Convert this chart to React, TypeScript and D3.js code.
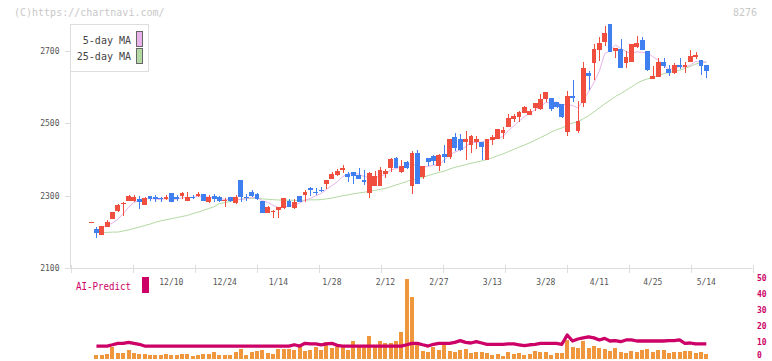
import React from 'react';
import * as d3 from 'd3';

// ---- data (index 0..115, one per trading day) ----
const opens = [2227,2208,2193,2215,2237,2259,2278,2286,2286,2291,2276,2300,2298,2295,2290,2309,2298,2300,2287,2296,2300,2305,2284,2300,2297,2286,2298,2280,2344,2298,2310,2305,2287,2253,2256,2260,2266,2286,2267,2300,2302,2321,2311,2317,2333,2346,2357,2371,2360,2367,2357,2345,2307,2328,2328,2360,2378,2405,2365,2394,2328,2419,2353,2405,2410,2383,2415,2406,2462,2457,2449,2440,2448,2450,2399,2454,2457,2474,2491,2512,2517,2530,2524,2543,2540,2567,2571,2559,2555,2475,2577,2480,2557,2640,2668,2703,2726,2775,2700,2705,2666,2670,2712,2730,2700,2622,2629,2670,2650,2640,2661,2657,2670,2684,2675,2661];
const highs = [2227,2215,2218,2232,2256,2278,2283,2303,2302,2300,2297,2300,2302,2297,2303,2309,2302,2312,2312,2303,2310,2306,2302,2305,2300,2293,2298,2302,2344,2305,2315,2308,2287,2272,2261,2270,2294,2292,2292,2300,2317,2325,2322,2325,2345,2366,2375,2384,2366,2367,2378,2371,2366,2368,2380,2375,2404,2408,2400,2395,2425,2428,2382,2405,2414,2416,2440,2457,2473,2470,2479,2467,2464,2450,2458,2467,2485,2490,2527,2526,2535,2548,2540,2557,2581,2588,2571,2559,2555,2590,2620,2563,2670,2645,2718,2738,2770,2775,2709,2734,2700,2718,2741,2740,2700,2658,2681,2681,2660,2668,2681,2670,2703,2698,2675,2661];
const lows = [2227,2184,2192,2213,2236,2255,2245,2286,2283,2263,2275,2285,2284,2283,2288,2284,2285,2292,2287,2290,2298,2287,2280,2282,2282,2270,2282,2278,2282,2285,2298,2288,2253,2253,2240,2240,2265,2268,2265,2283,2284,2300,2303,2310,2320,2346,2356,2362,2339,2333,2346,2329,2293,2328,2328,2350,2366,2378,2362,2373,2306,2333,2347,2382,2386,2370,2392,2403,2425,2423,2399,2418,2430,2400,2399,2440,2457,2457,2491,2505,2505,2530,2524,2535,2537,2558,2534,2542,2515,2465,2560,2474,2546,2593,2620,2672,2715,2698,2680,2654,2654,2670,2708,2703,2645,2622,2629,2653,2632,2637,2650,2640,2670,2677,2633,2625];
const closes = [2227,2198,2217,2229,2255,2276,2280,2300,2298,2284,2293,2291,2291,2290,2298,2284,2292,2309,2296,2294,2306,2287,2298,2290,2287,2288,2286,2296,2296,2295,2301,2290,2253,2270,2258,2269,2293,2270,2284,2284,2311,2316,2307,2313,2344,2360,2369,2378,2353,2355,2346,2337,2362,2355,2371,2369,2402,2378,2382,2378,2419,2333,2382,2394,2397,2413,2406,2457,2431,2428,2457,2465,2457,2436,2456,2462,2485,2482,2516,2520,2531,2544,2534,2557,2567,2588,2539,2544,2518,2577,2569,2507,2652,2632,2706,2723,2749,2698,2709,2654,2684,2718,2723,2703,2647,2631,2670,2658,2640,2661,2657,2661,2686,2689,2659,2645];
// 25-day MA at the start of the window (it includes days before the chart)
const ma25Head = [null,2199,2199,2199,2200,2200,2203,2206,2210,2214,2218,2222,2227,2231,2234,2237,2240,2243,2246,2251,2255,2260,2265,2270];
const volumes = [null,2.5,2.5,3.1,7.3,3.75,3.75,5.6,3.75,3.1,3.1,2.5,2.5,2.5,3.1,2.5,2.5,3.1,3.1,1.9,2.5,3.1,3.1,4.4,2.5,2.5,2.5,4.4,6.25,2.5,4.4,5,5.6,3.75,3.1,6.25,6.25,6.25,5.6,7.3,5,5.6,7.3,5.6,10.6,6.9,7.3,7.3,5.6,11.25,7.3,7.3,14.4,7.3,11.25,10,10,11.25,17,50,38.9,9.4,5.2,4.4,7.5,5.6,8.5,5,4.4,5.6,6.25,3.75,4.4,4.4,3.75,2.5,3.1,1.9,4.4,3.1,3.75,2.5,3.1,5,4.4,4.4,2.5,3.75,3.75,11.9,7.5,6.9,11.25,6.9,8.1,6.9,6.25,5,6.9,4.4,3.75,5,4.4,5.6,6.25,4.4,5.6,5.6,3.75,4.4,4.4,5,5,3.75,4.4,3.1];
const aiPredict = [null,8.1,8.1,8.1,8.9,9.8,9.8,10.4,9.8,9.2,8.1,8.1,8.1,8.1,8.1,8.1,8.1,8.1,8.1,8.1,8.1,8.1,8.1,8.1,8.1,8.1,8.1,8.1,8.1,8.1,8.1,8.1,8.1,8.1,8.1,8.1,8.1,8.1,8.9,8.1,9.8,9.4,9.4,8.9,9.4,9.8,8.5,8.1,8.1,8.1,8.1,8.1,8.1,8.1,8.1,8.1,8.1,8.1,8.1,8.9,9.8,9.8,8.9,8.1,9.2,9.8,9.8,9.8,10.4,11.5,10.4,10,10.8,10,9.2,9.2,9.2,9.2,9.4,9.4,8.9,8.3,8.9,9.2,9.8,9.8,9.8,9.8,9.2,15,11.25,12.5,13.2,13.9,13.2,11.9,12.9,11.25,11.5,10.8,11.9,11.9,11.25,11.25,11.25,11.25,11.25,11.25,11.5,11.5,11.9,9.8,10,9.4,9.4,9.4];
const dateLabels = ['12/10','12/24','1/14','1/28','2/12','2/27','3/13','3/28','4/11','4/25','5/14'];
const dateLabelIndex = [15,25,35,45,55,65,75,85,95,105,115];
const priceTicks = [2100,2300,2500,2700];
const predictTicks = [0,10,20,30,40,50];

const UP = '#f04e3e';
const DOWN = '#3f7ff0';
const MA5C = '#e8b2ea';
const MA25C = '#b3d9a3';
const AXIS = '#dddddd';
const AI = '#cc0066';
const VOL = '#f0963c';
const MONO = '"DejaVu Sans Mono", "Liberation Mono", monospace';

export default function App() {
  const n = closes.length;
  const x = d3.scaleLinear().domain([0, n - 1]).range([91.1, 706.3]);
  const y = d3.scaleLinear().domain([2100, 2700]).range([268.3, 51]);
  const yv = d3.scaleLinear().domain([0, 50]).range([359, 279]);
  const xt = d3.scaleLinear().domain([0, 11]).range([70.5, 752.5]);

  const ma5 = closes.map((_, i) => (i < 2 ? null : d3.mean(closes.slice(Math.max(0, i - 4), i + 1)) as number));
  const ma25 = closes.map((_, i) => (i < 24 ? ma25Head[i] : (d3.mean(closes.slice(i - 24, i + 1)) as number)));

  const priceLine = d3
    .line<number | null>()
    .defined((d) => d != null)
    .x((_, i) => x(i))
    .y((d) => y(d as number));
  const aiLine = d3
    .line<number | null>()
    .defined((d) => d != null)
    .x((_, i) => x(i))
    .y((d) => yv(d as number));

  const bw = 4.8;
  const vw = 4;

  return (
    <svg width={772} height={361} style={{ position: 'absolute', left: 0, top: 0, background: '#fff' }} fontFamily={MONO}>
      <text x={14} y={15.5} fontSize={10} fill="#c8c8c8">(C)https://chartnavi.com/</text>
      <text x={757} y={15.5} fontSize={10} fill="#c8c8c8" textAnchor="end">8276</text>

      {/* axes */}
      <line x1={70.5} y1={24} x2={70.5} y2={268.5} stroke={AXIS} />
      <line x1={65} y1={268.5} x2={752.5} y2={268.5} stroke={AXIS} />
      {d3.range(12).map((k) => (
        <line key={'xt' + k} x1={Math.round(xt(k)) + 0.5} x2={Math.round(xt(k)) + 0.5} y1={265} y2={273} stroke={AXIS} />
      ))}
      {priceTicks.map((t) => (
        <g key={'yt' + t}>
          <line x1={65} x2={70.5} y1={Math.round(y(t)) + 0.5} y2={Math.round(y(t)) + 0.5} stroke={AXIS} />
          <text x={59.5} y={y(t)} dy="0.35em" fontSize={8} fill="#555" textAnchor="end">{t}</text>
        </g>
      ))}
      {dateLabels.map((d, k) => (
        <text key={'dl' + d} x={x(dateLabelIndex[k])} y={285} fontSize={8} fill="#555" textAnchor="middle">{d}</text>
      ))}

      {/* moving averages */}
      <path d={priceLine(ma25) || ''} fill="none" stroke={MA25C} strokeWidth={1} />
      <path d={priceLine(ma5) || ''} fill="none" stroke={MA5C} strokeWidth={1} />

      {/* candles */}
      <g shapeRendering="crispEdges">
        {closes.map((c, i) => {
          const o = opens[i];
          const up = c >= o;
          const col = up ? UP : DOWN;
          const top = y(Math.max(o, c));
          const bot = y(Math.min(o, c));
          return (
            <g key={'c' + i}>
              <line x1={Math.round(x(i)) + 0.5} x2={Math.round(x(i)) + 0.5} y1={y(highs[i])} y2={y(lows[i])} stroke={col} />
              <rect x={x(i) - bw / 2} y={top} width={bw} height={Math.max(1, bot - top)} fill={col} />
            </g>
          );
        })}
      </g>

      {/* legend */}
      <rect x={70.5} y={24.5} width={78} height={47} fill="#fff" stroke={AXIS} />
      <text x={131} y={44} fontSize={10} fill="#444" textAnchor="end">5-day MA</text>
      <text x={131} y={60} fontSize={10} fill="#444" textAnchor="end">25-day MA</text>
      <rect x={136.5} y={31.5} width={6} height={15} fill={MA5C} stroke="#666" />
      <rect x={136.5} y={48.5} width={6} height={15} fill={MA25C} stroke="#666" />

      {/* lower panel */}
      <text x={76} y={290} fontSize={10} fill={AI} textLength={55} lengthAdjust="spacingAndGlyphs">AI-Predict</text>
      <rect x={142} y={277} width={7} height={16} fill={AI} />
      <g shapeRendering="crispEdges">
        {volumes.map((v, i) =>
          v == null ? null : (
            <rect key={'v' + i} x={x(i) - vw / 2} y={yv(v)} width={vw} height={yv(0) - yv(v)} fill={VOL} />
          )
        )}
      </g>
      <path d={aiLine(aiPredict) || ''} fill="none" stroke={AI} strokeWidth={3.3} strokeLinejoin="round" />
      {predictTicks.map((t) => (
        <text key={'pt' + t} x={757} y={Math.min(yv(t) - 1, 355)} dy="0.35em" fontSize={8} fontWeight="bold" fill={AI}>{t}</text>
      ))}
    </svg>
  );
}
